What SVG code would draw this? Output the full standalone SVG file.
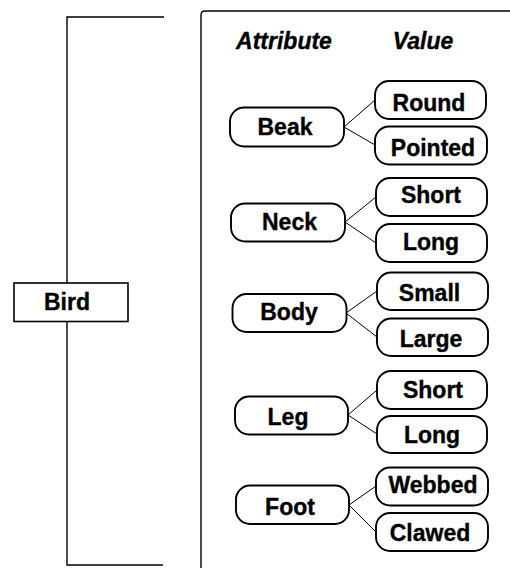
<svg xmlns="http://www.w3.org/2000/svg" width="510" height="568" viewBox="0 0 510 568">
<style>
.pill{fill:#fff;stroke:#000;stroke-width:1.9}
.box{fill:#fff;stroke:#000;stroke-width:1.6}
.line{fill:none;stroke:#000;stroke-width:1.4}
.conn{fill:none;stroke:#000;stroke-width:1}
.lbl{font-family:"Liberation Sans",Arial,sans-serif;font-weight:bold;font-size:23px;text-anchor:middle;fill:#000;stroke:#000;stroke-width:0.35}
.hdr{font-family:"Liberation Sans",Arial,sans-serif;font-weight:bold;font-style:italic;font-size:23px;text-anchor:middle;fill:#000;stroke:#000;stroke-width:0.35}
</style>
<rect width="510" height="568" fill="#fff"/>
<g id="bracket">
<path class="line" d="M164,17 H67 V565 H163"/>
</g>
<g id="panel">
<path class="line" d="M201,568 V15 Q201,11 205,11 H510"/>
<text class="hdr" x="284" y="49">Attribute</text>
<text class="hdr" x="423" y="49">Value</text>
</g>
<g id="connectors">
<line class="conn" x1="344" y1="127" x2="375" y2="100"/>
<line class="conn" x1="344" y1="127" x2="375" y2="145"/>
<line class="conn" x1="345" y1="222" x2="376" y2="197"/>
<line class="conn" x1="345" y1="222" x2="376" y2="243"/>
<line class="conn" x1="346" y1="313" x2="377" y2="291"/>
<line class="conn" x1="346" y1="313" x2="377" y2="337"/>
<line class="conn" x1="348" y1="415" x2="377" y2="390"/>
<line class="conn" x1="348" y1="415" x2="377" y2="434"/>
<line class="conn" x1="349" y1="505" x2="376" y2="486"/>
<line class="conn" x1="349" y1="505" x2="376" y2="532"/>
</g>
<g id="bird">
<rect class="box" x="14" y="283" width="114" height="38.5"/>
<text class="lbl" x="67" y="310">Bird</text>
</g>
<g id="beak">
<rect class="pill" x="230" y="107.5" width="114" height="39" rx="14"/>
<text class="lbl" x="285" y="135">Beak</text>
</g>
<g id="beak-round">
<rect class="pill" x="375" y="81" width="111" height="38" rx="14"/>
<text class="lbl" x="429" y="111">Round</text>
</g>
<g id="beak-pointed">
<rect class="pill" x="375" y="126.5" width="112" height="38" rx="14"/>
<text class="lbl" x="433" y="156">Pointed</text>
</g>
<g id="neck">
<rect class="pill" x="231" y="203.5" width="114" height="38" rx="14"/>
<text class="lbl" x="289.5" y="230">Neck</text>
</g>
<g id="neck-short">
<rect class="pill" x="376" y="178" width="111" height="38" rx="14"/>
<text class="lbl" x="431" y="203">Short</text>
</g>
<g id="neck-long">
<rect class="pill" x="376" y="224" width="111" height="38" rx="14"/>
<text class="lbl" x="431" y="250">Long</text>
</g>
<g id="body">
<rect class="pill" x="232.5" y="294" width="114" height="38" rx="14"/>
<text class="lbl" x="289" y="320">Body</text>
</g>
<g id="body-small">
<rect class="pill" x="377" y="272.5" width="111" height="37.5" rx="14"/>
<text class="lbl" x="429.5" y="300.5">Small</text>
</g>
<g id="body-large">
<rect class="pill" x="377" y="318.5" width="111" height="37.5" rx="14"/>
<text class="lbl" x="431" y="346.5">Large</text>
</g>
<g id="leg">
<rect class="pill" x="235" y="396.5" width="113" height="38" rx="14"/>
<text class="lbl" x="288" y="425">Leg</text>
</g>
<g id="leg-short">
<rect class="pill" x="377" y="371" width="110" height="38" rx="14"/>
<text class="lbl" x="433" y="398">Short</text>
</g>
<g id="leg-long">
<rect class="pill" x="377" y="416" width="110" height="37" rx="14"/>
<text class="lbl" x="432" y="443">Long</text>
</g>
<g id="foot">
<rect class="pill" x="236" y="485.5" width="113" height="38.5" rx="14"/>
<text class="lbl" x="290" y="514.5">Foot</text>
</g>
<g id="foot-webbed">
<rect class="pill" x="376" y="467.5" width="112" height="38" rx="14"/>
<text class="lbl" x="433" y="493">Webbed</text>
</g>
<g id="foot-clawed">
<rect class="pill" x="376" y="513" width="112" height="38" rx="14"/>
<text class="lbl" x="430" y="540.5">Clawed</text>
</g>
</svg>
